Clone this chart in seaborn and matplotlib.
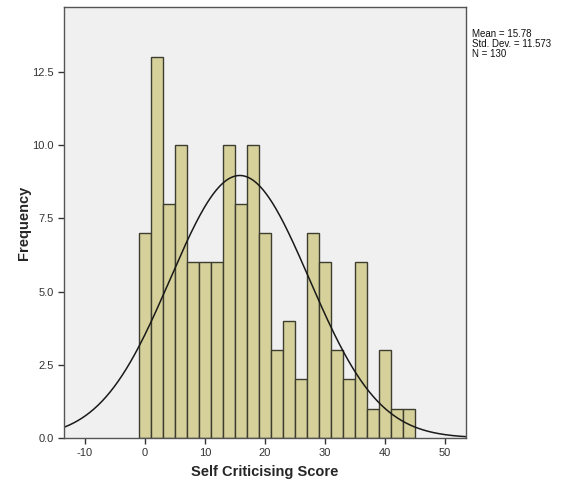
import numpy as np
import pandas as pd
import matplotlib
matplotlib.use('Agg')
import matplotlib.pyplot as plt
import seaborn as sns

# Histogram data (bin width 2, bins centred on even scores)
bin_centers = [0, 2, 4, 6, 8, 10, 12, 14, 16, 18, 20, 22, 24, 26, 28, 30, 32, 34, 36, 38, 40, 42, 44]
counts = [7, 13, 8, 10, 6, 6, 6, 10, 8, 10, 7, 3, 4, 2, 7, 6, 3, 2, 6, 1, 3, 1, 1]
mean_val = 15.78
sd_val = 11.573
n_val = 130
bin_width = 2

df = pd.DataFrame({'score': bin_centers, 'count': counts})

sns.set_style('white')
plt.rcParams['font.family'] = ['Liberation Sans', 'DejaVu Sans']
plt.rcParams['axes.unicode_minus'] = False

fig = plt.figure(figsize=(5.82, 4.91), dpi=100)
ax = fig.add_axes([0.110, 0.108, 0.691, 0.878])
ax.set_facecolor('#f0f0f0')

sns.histplot(data=df, x='score', weights='count', binwidth=bin_width, binrange=(-1, 45), ax=ax,
             color='#d6d09a', edgecolor='#3d3d30', linewidth=1.0, alpha=1)

# Normal curve
xs = np.linspace(-14, 54, 400)
ys = n_val * bin_width / (sd_val * np.sqrt(2 * np.pi)) * np.exp(-0.5 * ((xs - mean_val) / sd_val) ** 2)
sns.lineplot(x=xs, y=ys, ax=ax, color='#1a1a1a', linewidth=1.1)

ax.set_xlim(-13.5, 53.5)
ax.set_ylim(0, 14.72)
ax.set_xticks([-10, 0, 10, 20, 30, 40, 50])
ax.set_yticks([0, 2.5, 5, 7.5, 10, 12.5])
ax.set_yticklabels(['0.0', '2.5', '5.0', '7.5', '10.0', '12.5'])
ax.tick_params(axis='both', direction='out', length=4, width=1, labelsize=8,
               colors='#333333', left=True, bottom=True)
for s in ax.spines.values():
    s.set_color('#555555')
    s.set_linewidth(1)

ax.set_xlabel('Self Criticising Score', fontsize=10.5, fontweight='bold', labelpad=5)
ax.set_ylabel('Frequency', fontsize=10.5, fontweight='bold', labelpad=1)

fig.text(0.811, 0.94, 'Mean = 15.78\nStd. Dev. = 11.573\nN = 130',
         fontsize=7, va='top', ha='left', linespacing=0.95, color='#111111')

fig.savefig('out.png', dpi=100, facecolor='white')
